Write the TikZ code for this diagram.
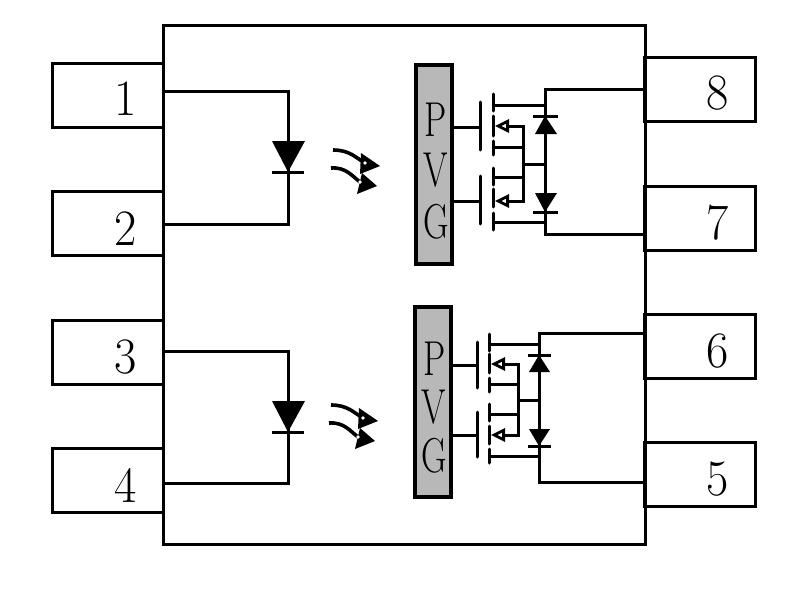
\documentclass[tikz,border=0pt]{standalone}
\usepackage{tikz}
\usetikzlibrary{positioning,arrows.meta}
\tikzset{
	wire/.style={line width=3pt, line join=miter},
	gatewire/.style={line width=3pt, line cap=round},
	pinbox/.style={draw, line width=3pt, minimum width=111pt, minimum height=64pt, inner sep=0pt},
	pinlabel/.style={inner sep=0pt, font=\fontsize{51}{51}\selectfont, xscale=0.95},
	pvgbox/.style={draw, line width=3.2pt, fill=black!28, minimum width=36pt, inner sep=0pt},
	pvglabel/.style={inner sep=0pt, font=\fontsize{49}{49}\selectfont, xscale=0.72},
	srcarrow/.style={wire, -{Triangle[open,length=14pt,width=13pt,line width=2.8pt]}},
	lightcurve/.style={line width=3.6pt}
}

\begin{document}
\begin{tikzpicture}[x=1pt, y=-1pt]
	\useasboundingbox (0,0) rectangle (811,589);
	
	% package and pins
	\node[draw, line width=3pt, minimum width=482pt, minimum height=519pt, inner sep=0pt] (chip) at (404,284.5) {};
	\foreach \n/\y/\ly in {1/95/99, 2/223/229, 3/352/357, 4/480/485} {
		\node[pinbox] (pin\n) at (107.5,\y) {};
		\node[pinlabel] (label\n) at (126,\ly) {\n};
	}
	\foreach \n/\y/\ly in {8/89/93, 7/218/223, 6/346/351, 5/474/479} {
		\node[pinbox] (pin\n) at (700,\y) {};
		\node[pinlabel] (label\n) at (718,\ly) {\n};
	}
	
	% LED of the first channel
	\coordinate (a1) at (288,91);
	\coordinate (k1) at (288,224);
	\draw[wire] (chip.west |- a1) -- (a1) -- (k1) -- (chip.west |- k1);
	\fill (272,141) -- (305,141) -- (288,172) -- cycle;
	\draw[wire] (272,172) -- (304,172);
	
	% LED of the second channel
	\coordinate (a2) at (288,351);
	\coordinate (k2) at (288,483);
	\draw[wire] (chip.west |- a2) -- (a2) -- (k2) -- (chip.west |- k2);
	\fill (272,401) -- (305,401) -- (288,432) -- cycle;
	\draw[wire] (272,432) -- (304,432);
	
	% light
	\foreach \dx/\dy in {0/0, -2/255} {
		\begin{scope}[xshift=\dx pt, yshift=-\dy pt]
			\draw[lightcurve] (333,150) .. controls (350,150) and (356,158) .. (365,163);
			\fill (380,166) -- (361,153) -- (360,174) -- cycle;
			\draw[lightcurve] (331,168) .. controls (346,167) and (352,176) .. (360,182);
			\fill (377,186) -- (362,173) -- (357,194) -- cycle;
			\fill[white] (365,163) circle(1.8);
			\fill[white] (360,182) circle(1.8);
		\end{scope}
	}
	
	% upper photovoltaic stack
	\node[pvgbox, minimum height=199pt] (pvg1) at (434,164.5) {};
	\node[pvglabel] (p1) at (436,120) {P};
	\node[pvglabel] (v1) at (436,170) {V};
	\node[pvglabel] (g1) at (436,222) {G};
	
	\coordinate (gate11) at (480,127);
	\coordinate (gate12) at (480,201);
	\draw[wire] (pvg1.east |- gate11) -- (gate11);
	\draw[wire] (pvg1.east |- gate12) -- (gate12);
	\draw[gatewire] (480,102) -- (480,150);
	\draw[gatewire] (480,176) -- (480,224);
	\foreach \a/\b in {94/111, 116/136, 141/155, 168/185, 189/207, 213/230} \draw[gatewire] (493,\a) -- (493,\b);
	
	\coordinate (top1) at (545,89);
	\coordinate (bot1) at (545,234);
	\draw[wire] (pin8.west |- top1) -- (top1) -- (bot1) -- (pin7.west |- bot1);
	\draw[wire] (493,105) -- (545,105);
	\draw[wire] (493,222) -- (545,222);
	\draw[wire] (493,147) -- (523,147);
	\draw[wire] (493,177) -- (523,177);
	\draw[wire] (523,164) -- (545,164);
	\draw[wire] (523,126) -- (523,201);
	\draw[srcarrow] (524.5,126) -- (495,126);
	\draw[srcarrow] (524.5,201) -- (495,201);
	
	\fill (545,116) -- (535,134) -- (557,134) -- cycle;
	\draw[wire] (533,116) -- (558,116);
	\fill (545,212) -- (535,193) -- (557,193) -- cycle;
	\draw[wire] (533,212) -- (558,212);
	
	% lower photovoltaic stack
	\node[pvgbox, minimum height=190pt] (pvg2) at (433,402) {};
	\node[pvglabel] (p2) at (435,359) {P};
	\node[pvglabel] (v2) at (434,407) {V};
	\node[pvglabel] (g2) at (434,456) {G};
	
	\coordinate (gate21) at (477,365);
	\coordinate (gate22) at (477,435);
	\draw[wire] (pvg2.east |- gate21) -- (gate21);
	\draw[wire] (pvg2.east |- gate22) -- (gate22);
	\draw[gatewire] (477,342) -- (477,388);
	\draw[gatewire] (477,412) -- (477,457);
	\foreach \a/\b in {334/351, 354/373, 378/392, 404/421, 426/444, 449/463} \draw[gatewire] (489,\a) -- (489,\b);
	
	\coordinate (top2) at (539,333);
	\coordinate (bot2) at (539,482);
	\draw[wire] (pin6.west |- top2) -- (top2) -- (bot2) -- (pin5.west |- bot2);
	\draw[wire] (489,344) -- (539,344);
	\draw[wire] (489,456) -- (539,456);
	\draw[wire] (489,384) -- (518,384);
	\draw[wire] (489,414) -- (518,414);
	\draw[wire] (518,400) -- (539,400);
	\draw[wire] (518,364) -- (518,435);
	\draw[srcarrow] (519.5,364) -- (491,364);
	\draw[srcarrow] (519.5,435) -- (491,435);
	
	\fill (539,355) -- (529,372) -- (550,372) -- cycle;
	\draw[wire] (528,355) -- (551,355);
	\fill (539,446) -- (529,429) -- (550,429) -- cycle;
	\draw[wire] (528,446) -- (551,446);
\end{tikzpicture}
\end{document}
